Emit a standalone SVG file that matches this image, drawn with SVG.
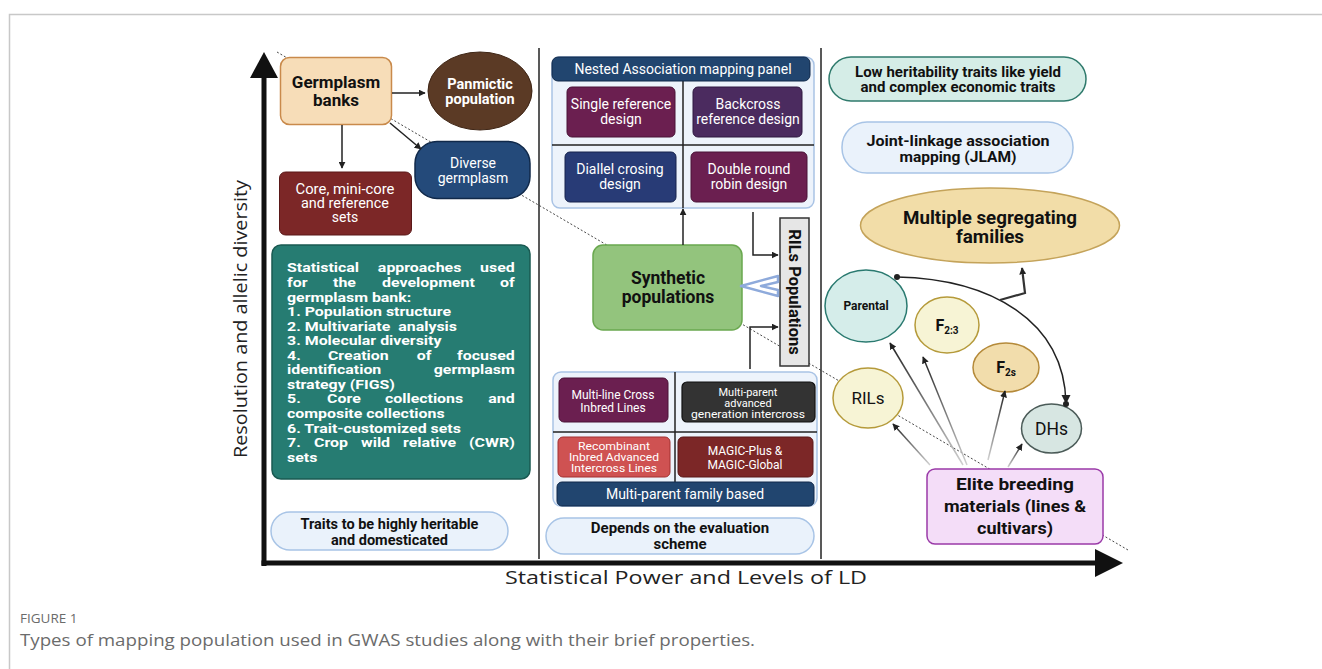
<svg xmlns="http://www.w3.org/2000/svg" width="1322" height="669" viewBox="0 0 1322 669">
<defs>
<style>
.t{font-family:Roboto,"Liberation Sans",sans-serif;}
.w{fill:#fff;font-size:14px;text-anchor:middle;}
.ws{fill:#fff;font-size:11px;text-anchor:middle;}
.wm{fill:#fff;font-size:12px;text-anchor:middle;}
.b{font-weight:bold;fill:#111;text-anchor:middle;}
.stat{fill:#fff;font-weight:bold;font-size:13.5px;}
.conn{stroke:#222;stroke-width:1.5;fill:none;}
.fade{stroke:url(#fadeg);stroke-width:1.5;fill:none;}
.ax{font-family:"Open Sans","Noto Sans",sans-serif;fill:#222;font-size:19px;}
.cap{font-family:"Open Sans","Noto Sans",sans-serif;fill:#6b6b6b;}
.div{stroke:#222;stroke-width:1.5;}
.panel{fill:#edf3fb;stroke:#a9c3e5;stroke-width:1.5;}
.pill{fill:#eaf2fb;stroke:#a8c4e6;stroke-width:1.5;}
</style>
<linearGradient id="fadeg" x1="0" y1="1" x2="0" y2="0">
<stop offset="0" stop-color="#d0d0d0"/>
<stop offset="1" stop-color="#222"/>
</linearGradient>
<marker id="ah" viewBox="0 0 10 10" refX="9" refY="5" markerWidth="7" markerHeight="7" orient="auto" markerUnits="userSpaceOnUse">
<path d="M0,0 L10,5 L0,10 z" fill="#222"/>
</marker>
<marker id="dot" viewBox="0 0 10 10" refX="5" refY="5" markerWidth="6" markerHeight="6" markerUnits="userSpaceOnUse">
<circle cx="5" cy="5" r="5" fill="#222"/>
</marker>
</defs>
<rect width="1322" height="669" fill="#fff"/>
<path d="M9.5,669 V14.5 H1322" fill="none" stroke="#c8c8c8" stroke-width="1.5"/>

<!-- axes -->
<g id="axes">
<line x1="264" y1="75" x2="264" y2="566" stroke="#111" stroke-width="5"/>
<polygon points="264,52 250,78 278,78" fill="#111"/>
<line x1="261.5" y1="563" x2="1098" y2="563" stroke="#111" stroke-width="5"/>
<polygon points="1123,563 1095,549 1095,577" fill="#111"/>
<line class="div" x1="539" y1="48" x2="539" y2="559"/>
<line class="div" x1="821" y1="48" x2="821" y2="559"/>
<line x1="277" y1="52" x2="1128" y2="550" stroke="#333" stroke-width="0.9" stroke-dasharray="2,2"/>
<text class="ax" x="240" y="319" text-anchor="middle" transform="rotate(-90 240 319)" dy="7" textLength="278" lengthAdjust="spacingAndGlyphs">Resolution and allelic diversity</text>
<text class="ax" x="686" y="584" text-anchor="middle" textLength="362" lengthAdjust="spacingAndGlyphs">Statistical Power and Levels of LD</text>
</g>

<!-- left column -->
<g id="germplasm-banks">
<rect x="280.5" y="57.5" width="111" height="67" rx="9" fill="#f7ddb8" stroke="#c98a4b" stroke-width="1.5"/>
<text class="t b" font-size="17" x="336" y="88">Germplasm</text>
<text class="t b" font-size="17" x="336" y="106">banks</text>
</g>
<g id="panmictic">
<ellipse cx="480" cy="91" rx="52" ry="39" fill="#5b3a25" stroke="#3e2515" stroke-width="1"/>
<text class="t" font-size="14.5" font-weight="bold" fill="#fff" text-anchor="middle" x="480" y="89">Panmictic</text>
<text class="t" font-size="14.5" font-weight="bold" fill="#fff" text-anchor="middle" x="480" y="104">population</text>
</g>
<g id="diverse-germplasm">
<rect x="415" y="141.5" width="115" height="57" rx="22" fill="#244a7a" stroke="#10294a" stroke-width="1.5"/>
<text class="t w" font-size="15" x="473" y="168">Diverse</text>
<text class="t w" font-size="15" x="473" y="183">germplasm</text>
</g>
<g id="core-sets">
<rect x="279.5" y="172" width="132" height="63" rx="6" fill="#7c2727" stroke="#5a1818" stroke-width="1"/>
<text class="t w" font-size="14" x="345" y="194" textLength="99" lengthAdjust="spacingAndGlyphs">Core, mini-core</text>
<text class="t w" font-size="14" x="345" y="208" textLength="88" lengthAdjust="spacingAndGlyphs">and reference</text>
<text class="t w" font-size="14" x="345" y="222">sets</text>
</g>
<g id="statistical-approaches">
<rect x="272" y="245" width="258" height="234" rx="9" fill="#267c72" stroke="#1a5a52" stroke-width="1.5"/>
<g class="t stat" transform="translate(287 0) scale(1.18 1) translate(-287 0)">
<text x="287" y="272">Statistical</text><text x="364" y="272">approaches</text><text x="480" y="272" text-anchor="end">used</text>
<text x="287" y="287">for</text><text x="326" y="287">the</text><text x="367.5" y="287">development</text><text x="480" y="287" text-anchor="end">of</text>
<text x="287" y="302">germplasm bank:</text>
<text x="287" y="316.5">1. Population structure</text>
<text x="287" y="331" xml:space="preserve">2. Multivariate  analysis</text>
<text x="287" y="345.5">3. Molecular diversity</text>
<text x="287" y="360">4.</text><text x="321.7" y="360">Creation</text><text x="397" y="360">of</text><text x="480" y="360" text-anchor="end">focused</text>
<text x="287" y="374.5">identification</text><text x="480" y="374.5" text-anchor="end">germplasm</text>
<text x="287" y="389">strategy (FIGS)</text>
<text x="287" y="403.5">5.</text><text x="321" y="403.5">Core</text><text x="370" y="403.5">collections</text><text x="480" y="403.5" text-anchor="end">and</text>
<text x="287" y="418">composite collections</text>
<text x="287" y="433">6. Trait-customized sets</text>
<text x="287" y="447.5">7.</text><text x="309.9" y="447.5">Crop</text><text x="349.7" y="447.5">wild</text><text x="385.3" y="447.5">relative</text><text x="480" y="447.5" text-anchor="end">(CWR)</text>
<text x="287" y="462">sets</text>
</g>
</g>
<g id="traits-heritable">
<rect class="pill" x="271" y="512" width="237" height="38" rx="19"/>
<text class="t b" font-size="14.5" x="389.5" y="529">Traits to be highly heritable</text>
<text class="t b" font-size="14.5" x="389.5" y="545">and domesticated</text>
</g>

<!-- middle column -->
<g id="nam-panel">
<rect class="panel" x="552" y="57" width="262" height="151" rx="8"/>
<line x1="683" y1="81" x2="683" y2="208" stroke="#222" stroke-width="1.5"/>
<line x1="552" y1="145" x2="814" y2="145" stroke="#222" stroke-width="1.5"/>
<rect x="552" y="57" width="258" height="24" rx="6" fill="#21456f" stroke="#10294a" stroke-width="1"/>
<text class="t w" x="683" y="74">Nested Association mapping panel</text>
</g>
<g id="single-reference">
<rect x="567" y="87" width="108" height="50" rx="5" fill="#6b1f50" stroke="#4a1236" stroke-width="1"/>
<text class="t w" x="621" y="109">Single reference</text>
<text class="t w" x="621" y="124">design</text>
</g>
<g id="backcross-reference">
<rect x="693" y="87" width="109" height="50" rx="5" fill="#4b2b5f" stroke="#2e1840" stroke-width="1"/>
<text class="t w" x="748" y="109">Backcross</text>
<text class="t w" x="748" y="124">reference design</text>
</g>
<g id="diallel">
<rect x="565" y="152" width="111" height="50" rx="5" fill="#283b76" stroke="#16234d" stroke-width="1"/>
<text class="t w" x="620" y="174">Diallel crosing</text>
<text class="t w" x="620" y="189">design</text>
</g>
<g id="double-round-robin">
<rect x="691" y="152" width="116" height="50" rx="5" fill="#6b1f50" stroke="#4a1236" stroke-width="1"/>
<text class="t w" x="749" y="174">Double round</text>
<text class="t w" x="749" y="189">robin design</text>
</g>
<g id="synthetic-populations">
<rect x="593" y="245" width="149" height="85" rx="10" fill="#93c47d" stroke="#6aa84f" stroke-width="1.5"/>
<text class="t b" font-size="17.5" x="668" y="284">Synthetic</text>
<text class="t b" font-size="17.5" x="668" y="303">populations</text>
</g>
<g id="rils-populations">
<rect x="780" y="218" width="29" height="148" fill="#e6e6e6" stroke="#333" stroke-width="1.5"/>
<text class="t b" font-size="16.5" x="794.5" y="292" transform="rotate(90 794.5 292)" dy="6">RILs Populations</text>
</g>
<g id="mpf-panel">
<rect class="panel" x="553" y="372" width="264" height="134" rx="8"/>
<line x1="675" y1="372" x2="675" y2="482" stroke="#222" stroke-width="1.5"/>
<line x1="553" y1="432" x2="817" y2="432" stroke="#222" stroke-width="1.5"/>
</g>
<g id="multi-line-cross">
<rect x="559" y="378" width="109" height="44" rx="5" fill="#6b1f50" stroke="#4a1236" stroke-width="1"/>
<text class="t wm" x="613" y="399">Multi-line Cross</text>
<text class="t wm" x="613" y="412">Inbred Lines</text>
</g>
<g id="magic">
<rect x="682" y="382" width="133" height="40" rx="5" fill="#333" stroke="#111" stroke-width="1.2"/>
<text class="t ws" x="748" y="395.5">Multi-parent</text>
<text class="t ws" x="748" y="406.5">advanced</text>
<text class="t ws" x="748" y="417.5" textLength="114" lengthAdjust="spacingAndGlyphs">generation intercross</text>
</g>
<g id="riail">
<rect x="558" y="437" width="112" height="40" rx="5" fill="#cf5252" stroke="#a33030" stroke-width="1"/>
<text class="t ws" x="614" y="450" textLength="72" lengthAdjust="spacingAndGlyphs">Recombinant</text>
<text class="t ws" x="614" y="461" textLength="90" lengthAdjust="spacingAndGlyphs">Inbred Advanced</text>
<text class="t ws" x="614" y="472" textLength="86" lengthAdjust="spacingAndGlyphs">Intercross Lines</text>
</g>
<g id="magic-plus">
<rect x="678" y="437" width="135" height="40" rx="5" fill="#7c2727" stroke="#5a1818" stroke-width="1"/>
<text class="t wm" x="745" y="455">MAGIC-Plus &amp;</text>
<text class="t wm" x="745" y="469">MAGIC-Global</text>
</g>
<g id="multi-parent-family">
<rect x="557" y="482" width="257" height="24" rx="5" fill="#21456f" stroke="#10294a" stroke-width="1"/>
<text class="t w" x="685" y="499">Multi-parent family based</text>
</g>
<g id="depends-evaluation">
<rect class="pill" x="546" y="518" width="268" height="36" rx="18"/>
<text class="t b" font-size="15" x="680" y="533">Depends on the evaluation</text>
<text class="t b" font-size="15" x="680" y="549">scheme</text>
</g>

<!-- right column -->
<g id="low-heritability">
<rect x="829" y="57" width="257" height="44" rx="22" fill="#d5ede7" stroke="#2f7a6c" stroke-width="1.5"/>
<text class="t b" font-size="14" x="958" y="77" textLength="206" lengthAdjust="spacingAndGlyphs">Low heritability traits like yield</text>
<text class="t b" font-size="14" x="958" y="92" textLength="195" lengthAdjust="spacingAndGlyphs">and complex economic traits</text>
</g>
<g id="jlam">
<rect class="pill" x="842" y="122" width="231" height="51" rx="25"/>
<text class="t b" font-size="15" x="958" y="146" textLength="183" lengthAdjust="spacingAndGlyphs">Joint-linkage association</text>
<text class="t b" font-size="15" x="958" y="162" textLength="117" lengthAdjust="spacingAndGlyphs">mapping (JLAM)</text>
</g>
<g id="multiple-segregating">
<ellipse cx="990" cy="225.5" rx="129.5" ry="37.5" fill="#f2dda8" stroke="#c4a35a" stroke-width="1.5"/>
<text class="t b" font-size="18" x="990" y="224" textLength="174" lengthAdjust="spacingAndGlyphs">Multiple segregating</text>
<text class="t b" font-size="18" x="990" y="243" textLength="68" lengthAdjust="spacingAndGlyphs">families</text>
</g>
<g id="parental">
<ellipse cx="866" cy="306" rx="41" ry="36" fill="#d5edea" stroke="#2a7a70" stroke-width="1.5"/>
<text class="t b" font-size="12" x="866" y="310">Parental</text>
</g>
<g id="f23">
<ellipse cx="947" cy="325" rx="32" ry="28" fill="#f7f4d5" stroke="#b59a3a" stroke-width="1.5"/>
<text class="t b" font-size="16" x="947" y="331">F<tspan font-size="10" dy="3">2:3</tspan></text>
</g>
<g id="f2s">
<ellipse cx="1006" cy="367.5" rx="33" ry="24.5" fill="#f2ddac" stroke="#b58a3a" stroke-width="1.5"/>
<text class="t b" font-size="16" x="1006" y="373">F<tspan font-size="10" dy="3">2s</tspan></text>
</g>
<g id="rils">
<ellipse cx="868" cy="398" rx="35" ry="30" fill="#f7f4d5" stroke="#b59a3a" stroke-width="1.5"/>
<text class="t" font-size="17" fill="#111" text-anchor="middle" x="868" y="404">RILs</text>
</g>
<g id="dhs">
<ellipse cx="1051.5" cy="428.5" rx="30" ry="24.5" fill="#d7e6e2" stroke="#4b5b58" stroke-width="1.5"/>
<text class="t" font-size="17.5" fill="#111" text-anchor="middle" x="1051.5" y="435">DHs</text>
</g>
<g id="elite-breeding">
<rect x="927" y="469" width="176" height="75" rx="8" fill="#f4ddf8" stroke="#9a3aa8" stroke-width="1.5"/>
<text class="t b" font-size="17" x="1015" y="490" textLength="118" lengthAdjust="spacingAndGlyphs">Elite breeding</text>
<text class="t b" font-size="17" x="1015" y="512" textLength="142" lengthAdjust="spacingAndGlyphs">materials (lines &amp;</text>
<text class="t b" font-size="17" x="1015" y="534" textLength="76" lengthAdjust="spacingAndGlyphs">cultivars)</text>
</g>

<!-- connectors -->
<g id="connectors">
<line class="conn" x1="392" y1="93" x2="425" y2="93" marker-end="url(#ah)"/>
<line class="conn" x1="342" y1="125" x2="342" y2="168" marker-end="url(#ah)"/>
<line class="conn" x1="390" y1="123" x2="421" y2="149" marker-end="url(#ah)"/>
<line class="conn" x1="683" y1="245" x2="683" y2="209" marker-end="url(#ah)"/>
<polyline class="conn" points="753,212 753,255 778,255" marker-end="url(#ah)"/>
<polyline class="conn" points="750,369 750,327 778,327" marker-end="url(#ah)"/>
<polygon points="741,286 778,276 778,282 761,286 778,290 778,296" fill="#fff" stroke="#8eaadb" stroke-width="2.5" stroke-linejoin="round"/>
<path class="conn" d="M897,277 C990,279 1064,320 1066,403" marker-start="url(#dot)"/>
<polygon points="1066,404 1061.5,395 1070.5,395" fill="#222"/>
<circle cx="1066" cy="404" r="3" fill="#222"/>
<polyline points="1000,300 1025,293 1022,268" fill="none" stroke="#333" stroke-width="2.2" marker-end="url(#ah)"/>
<line class="fade" x1="930" y1="465" x2="893" y2="424" marker-end="url(#ah)"/>
<line class="fade" x1="963" y1="465" x2="890" y2="343" marker-end="url(#ah)"/>
<line class="fade" x1="967" y1="465" x2="923" y2="357" marker-end="url(#ah)"/>
<line class="fade" x1="988" y1="460" x2="1005" y2="391" marker-end="url(#ah)"/>
<line class="fade" x1="1008" y1="467" x2="1022" y2="444" marker-end="url(#ah)"/>
</g>

<g id="caption">
<text class="cap" x="20" y="623" font-size="13.5">FIGURE 1</text>
<text class="cap" x="20" y="646" font-size="16" textLength="735" lengthAdjust="spacingAndGlyphs">Types of mapping population used in GWAS studies along with their brief properties.</text>
</g>
</svg>
